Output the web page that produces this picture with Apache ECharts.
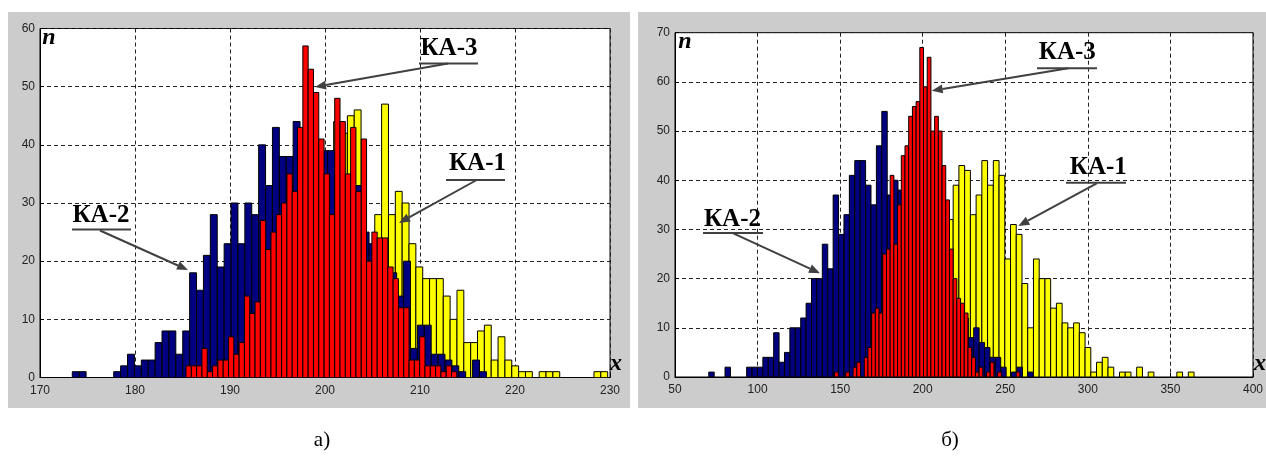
<!DOCTYPE html>
<html><head><meta charset="utf-8">
<script src="https://cdn.jsdelivr.net/npm/echarts@6.0.0/dist/echarts.min.js"></script>
<style>html,body{margin:0;padding:0;background:#fff;}#c{width:1266px;height:463px;}</style>
</head><body><div id="c"></div>
<script>
// ---------- Panel a) ----------
const aXTicks = [170, 180, 190, 200, 210, 220, 230];
const aYTicks = [0, 10, 20, 30, 40, 50, 60];
const aKA1Start = 186.49, aKA1Width = 0.7211;
const aKA1 = [2,3,5,7,10,12,15,17,19,21,22,24,26,27,29,31,33,34,36,38,44,42,45,46,24,22,28,47,28,32,30,23,19,17,17,17,14,10,15,6,6,8,9,3,7,3,2,1,1,0,1,1,1,0,0,0,0,0,1,1];
const aKA2Start = 173.40, aKA2Width = 0.7265;
const aKA2 = [1,1,0,0,0,0,1,2,4,2,3,3,6,8,8,4,8,18,15,21,28,19,23,30,23,30,28,40,33,43,38,38,44,40,38,40,39,39,36,32,28,33,25,23,20,16,18,14,20,5,9,9,4,4,3,2,1,0,3,1];
const aKA3Start = 185.37, aKA3Width = 0.559;
const aKA3 = [2,2,2,5,1,2,3,3,7,4,6,14,11,13,27,22,25,28,30,35,32,43,57,53,49,41,35,28,48,44,35,43,32,41,20,25,24,24,19,17,12,12,3,3,7,2,2,2,1,2,1];

// ---------- Panel b) ----------
const bXTicks = [50, 100, 150, 200, 250, 300, 350, 400];
const bYTicks = [0, 10, 20, 30, 40, 50, 60, 70];
const bKA1Start = 155.94, bKA1Width = 3.4727;
const bKA1 = [1,0,1,2,2,3,5,6,8,10,12,14,17,19,21,24,28,32,39,43,42,33,37,44,39,44,41,24,31,29,19,10,24,20,20,14,15,11,10,11,9,6,1,3,4,2,0,1,1,0,2,0,1,0,0,0,0,1,0,1];
const bKA2Start = 70.46, bKA2Width = 3.274;
const bKA2 = [1,0,0,2,0,0,0,2,2,2,4,4,9,3,5,10,10,12,15,20,20,27,22,37,29,33,41,44,44,39,35,47,54,37,40,38,36,34,32,30,27,25,22,20,17,14,13,12,8,10,7,6,4,4,2,0,1,2,0,1];
const bKA3Start = 146.65, bKA3Width = 2.2435;
const bKA3 = [1,0,0,1,0,2,3,0,4,6,13,14,13,25,26,41,27,35,45,47,53,55,56,67,59,65,50,53,50,43,36,26,20,16,15,13,6,4,1,2,0,1,3,0,1,0,0,0,0,1];

const panelLabels = ['а)', 'б)'];
const seriesNames = ['КА-1', 'КА-2', 'КА-3'];
const colors = ['#ffff00', '#000080', '#ff0000'];

function bins(start, width, counts) {
  return counts.map((c, i) => [start + i * width, start + (i + 1) * width, c]);
}
function histSeries(name, color, data, gi) {
  return {
    type: 'custom', name: name, xAxisIndex: gi, yAxisIndex: gi, clip: true,
    encode: { x: [0, 1], y: 2 },
    data: data,
    renderItem: function (params, api) {
      const x0 = api.value(0), x1 = api.value(1), v = api.value(2);
      if (!v) return null;
      const p0 = api.coord([x0, 0]), p1 = api.coord([x1, v]);
      return { type: 'rect',
        shape: { x: p0[0], y: p1[1], width: p1[0] - p0[0], height: p0[1] - p1[1] },
        style: { fill: color, stroke: '#000', lineWidth: 1 } };
    }
  };
}
const axisFont = { fontFamily: 'Liberation Sans', fontSize: 12, color: '#222' };
function xAx(gi, ticks) {
  return { type: 'value', gridIndex: gi, min: ticks[0], max: ticks[ticks.length - 1],
    interval: ticks[1] - ticks[0],
    axisLine: { show: true, lineStyle: { color: '#000', width: 1 } },
    axisTick: { show: true, inside: true, length: 4, lineStyle: { color: '#000' } },
    axisLabel: Object.assign({ margin: 7 }, axisFont),
    splitLine: { show: true, lineStyle: { color: '#222', type: [4, 3], width: 1 } } };
}
function yAx(gi, ticks) {
  return { type: 'value', gridIndex: gi, min: ticks[0], max: ticks[ticks.length - 1],
    interval: ticks[1] - ticks[0],
    axisLine: { show: true, lineStyle: { color: '#000', width: 1 } },
    axisTick: { show: true, inside: true, length: 4, lineStyle: { color: '#000' } },
    axisLabel: Object.assign({ margin: 5 }, axisFont),
    splitLine: { show: true, lineStyle: { color: '#222', type: [4, 3], width: 1 } } };
}

const G = '#404040';
function arrow(x1, y1, x2, y2) {
  const ang = Math.atan2(y2 - y1, x2 - x1), L = 11, W = 4.5;
  const bx = x2 - L * Math.cos(ang), by = y2 - L * Math.sin(ang);
  const px = -Math.sin(ang) * W, py = Math.cos(ang) * W;
  return [
    { type: 'line', z: 100, shape: { x1: x1, y1: y1, x2: bx, y2: by }, style: { stroke: G, lineWidth: 2 } },
    { type: 'polygon', z: 100, shape: { points: [[x2, y2], [bx + px, by + py], [bx - px, by - py]] }, style: { fill: G } }
  ];
}
function label(text, cx, cy, ux1, ux2, uy, ax1, ay1, ax2, ay2) {
  return [
    { type: 'text', z: 100, x: cx, y: cy, style: { text: text, font: 'bold 25px "Liberation Serif"', fill: '#000', align: 'center', verticalAlign: 'middle' } },
    { type: 'line', z: 100, shape: { x1: ux1, y1: uy, x2: ux2, y2: uy }, style: { stroke: G, lineWidth: 2 } }
  ].concat(arrow(ax1, ay1, ax2, ay2));
}
function italic(t, x, y) {
  return { type: 'text', z: 100, x: x, y: y, style: { text: t, font: 'italic bold 24px "Liberation Serif"', fill: '#000', align: 'center', verticalAlign: 'middle' } };
}

const graphics = [
  { type: 'rect', z: -10, shape: { x: 8, y: 12, width: 622, height: 396 }, style: { fill: '#cccccc' } },
  { type: 'rect', z: -10, shape: { x: 638, y: 12, width: 628, height: 396 }, style: { fill: '#cccccc' } },
  italic('n', 49, 38), italic('x', 616, 364),
  italic('n', 685, 42), italic('x', 1260, 364),
  { type: 'text', x: 322, y: 440, style: { text: panelLabels[0], font: '21px "Liberation Serif"', fill: '#000', align: 'center', verticalAlign: 'middle' } },
  { type: 'text', x: 950, y: 440, style: { text: panelLabels[1], font: '21px "Liberation Serif"', fill: '#000', align: 'center', verticalAlign: 'middle' } }
].concat(
  label(seriesNames[1], 101, 216, 72, 131, 229.5, 100, 230.5, 188, 270),
  label(seriesNames[2], 449, 49, 419, 478, 63.5, 448, 63.5, 315, 87),
  label(seriesNames[0], 477.5, 164, 446, 505, 180, 476.7, 180, 399, 223),
  label(seriesNames[1], 732.5, 220, 703, 763, 233, 733.3, 233.3, 820, 273.3),
  label(seriesNames[2], 1067.3, 52.3, 1037, 1097, 68.3, 1068.3, 68.3, 931.7, 90.7),
  label(seriesNames[0], 1098.3, 168, 1066, 1126, 182.7, 1096.7, 183.3, 1018.3, 226)
);

const chart = echarts.init(document.getElementById('c'), null, { renderer: 'canvas' });
chart.setOption({
  animation: false,
  backgroundColor: '#fff',
  grid: [
    { left: 40, top: 28.5, width: 570, height: 349, show: true, backgroundColor: '#fff', borderColor: '#000', borderWidth: 1 },
    { left: 675, top: 32.7, width: 578, height: 344.3, show: true, backgroundColor: '#fff', borderColor: '#000', borderWidth: 1 }
  ],
  xAxis: [xAx(0, aXTicks), xAx(1, bXTicks)],
  yAxis: [yAx(0, aYTicks), yAx(1, bYTicks)],
  series: [
    histSeries(seriesNames[0], colors[0], bins(aKA1Start, aKA1Width, aKA1), 0),
    histSeries(seriesNames[1], colors[1], bins(aKA2Start, aKA2Width, aKA2), 0),
    histSeries(seriesNames[2], colors[2], bins(aKA3Start, aKA3Width, aKA3), 0),
    histSeries(seriesNames[0], colors[0], bins(bKA1Start, bKA1Width, bKA1), 1),
    histSeries(seriesNames[1], colors[1], bins(bKA2Start, bKA2Width, bKA2), 1),
    histSeries(seriesNames[2], colors[2], bins(bKA3Start, bKA3Width, bKA3), 1)
  ],
  graphic: graphics
});
</script></body></html>
